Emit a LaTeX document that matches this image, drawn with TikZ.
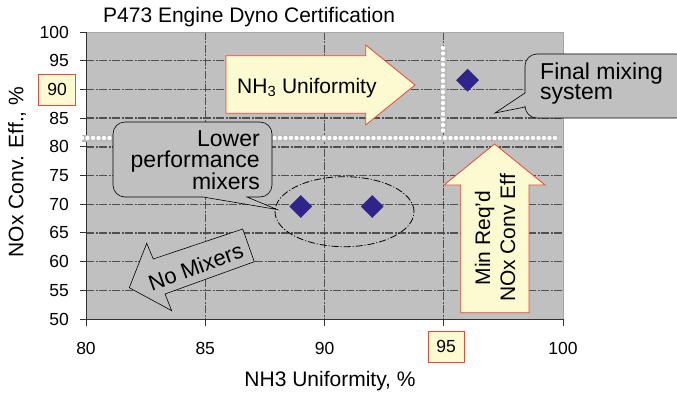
\documentclass[tikz,border=0pt]{standalone}
\usepackage{fontspec}
\setmainfont{Liberation Sans}
\usetikzlibrary{shapes.geometric}
\definecolor{plotbg}{RGB}{192,192,192}
\definecolor{gridc}{RGB}{80,80,80}
\definecolor{hiyel}{RGB}{252,250,208}
\definecolor{hired}{RGB}{232,72,56}
\definecolor{ptblue}{RGB}{48,36,138}
\begin{document}
\begin{tikzpicture}[x=1pt,y=-1pt,
    gridline/.style={draw=gridc,line width=1.4pt,dash pattern=on 8pt off 1.5pt on 2pt off 1.5pt},
    ticklab/.style={font=\fontsize{17.5}{20}\selectfont,inner sep=0pt},
    bigtext/.style={font=\fontsize{21}{25}\selectfont,inner sep=0pt},
    hilite/.style={draw=hired,fill=hiyel,line width=0.8pt},
    bubble/.style={draw=black,fill=plotbg,line width=0.6pt},
    datapt/.style={diamond,fill=ptblue,minimum width=23pt,minimum height=23pt,inner sep=0pt},
    reqband/.style={line width=7pt,draw=gray!55},
    reqdots/.style={line width=4.4pt,draw=white,line cap=round,dash pattern=on 0pt off 5.5pt}]
\useasboundingbox[fill=white] (0,0) rectangle (677,396);
\fill[plotbg] (86,32) rectangle (563,319);
\foreach \v in {55,60,...,95}
    \draw[gridline] (86,{319-(\v-50)*5.74}) -- (563,{319-(\v-50)*5.74});
\foreach \v in {85,90,95}
    \draw[gridline] ({86+(\v-80)*23.85},32) -- ({86+(\v-80)*23.85},319);
\draw[gray!70,line width=0.8pt] (86,32) -- (563,32) -- (563,319);
\draw[gray!40!black,line width=0.9pt] (86,32) -- (86,319) -- (563,319);
\foreach \v in {50,55,...,100}
    \draw[gray!40!black,line width=0.9pt] (80,{319-(\v-50)*5.74}) -- (86,{319-(\v-50)*5.74});
\foreach \v in {80,85,...,100}
    \draw[gray!40!black,line width=0.9pt] ({86+(\v-80)*23.85},319) -- ({86+(\v-80)*23.85},326);
\foreach \v in {50,55,60,65,70,75,80,85,95,100}
    \node[ticklab,anchor=east] (y\v) at (69,{319-(\v-50)*5.74}) {\v};
\node[ticklab,hilite,minimum width=37pt,minimum height=31pt,anchor=east] (y90) at (76,89.5) {90};
\foreach \v in {80,85,90,100}
    \node[ticklab] (x\v) at ({86+(\v-80)*23.85},348) {\v};
\node[ticklab,hilite,minimum width=36pt,minimum height=31pt] (x95) at (446,346.5) {95};
\node[bigtext,anchor=base west] (title) at (103,23) {P473 Engine Dyno Certification};
\node[bigtext] (xtitle) at (330,381) {NH3 Uniformity, \%};
\node[bigtext,rotate=90] (ytitle) at (17,172) {NOx Conv. Eff., \%};
\draw[reqband] (82,138) -- (558,138);
\draw[reqdots] (82,138) -- (558,138);
\draw[reqband] (443,48) -- (443,132);
\draw[reqdots] (443,48) -- (443,132);
\node[datapt] (mixA) at (300.7,206.5) {};
\node[datapt] (mixB) at (372.2,206.5) {};
\node[datapt] (final) at (467.6,80.2) {};
\draw[line width=0.8pt,dash pattern=on 7pt off 2pt on 1pt off 2pt] (344.5,211.7) ellipse [x radius=69.5pt,y radius=35pt];
\draw[hilite] (226,55.7) -- (365.7,55.7) -- (365.7,45) -- (415,85) -- (365.7,125) -- (365.7,113.3) -- (226,113.3) -- cycle;
\node[bigtext,anchor=base west] (nh3) at (237,93) {NH\textsubscript{3} Uniformity};
\draw[hilite] (460.7,312.7) -- (460.7,185) -- (444,185) -- (494.5,144) -- (545,185) -- (529,185) -- (529,312.7) -- cycle;
\node[bigtext,rotate=90,align=center,font=\fontsize{21}{25}\selectfont] (minreq) at (495,238) {Min Req'd\\NOx Conv Eff};
\draw[bubble] (129.3,287.7) -- (146.7,243.3) -- (153.3,259) -- (242.7,229) -- (254.3,261.7) -- (165,294) -- (171.7,310.7) -- cycle;
\node[rotate=20,inner sep=0pt,font=\fontsize{22}{26}\selectfont] (nomix) at (195.7,266.7) {No Mixers};
\draw[bubble] (203,197) -- (277,209.5) -- (247,197) [rounded corners=12pt] -- (272,197) -- (272,122) -- (113,122) -- (113,197) -- (203,197);
\node[inner sep=0pt,align=right,anchor=east,font=\fontsize{23}{21.5}\selectfont] (lower) at (260,160) {Lower\\performance\\mixers};
\draw[bubble] (525,93) -- (495,113) -- (525,107) [rounded corners=12pt] -- (525,118) -- (688,118) -- (688,54) -- (525,54) -- (525,93);
\node[inner sep=0pt,align=left,anchor=west,font=\fontsize{23}{20}\selectfont] (finaltxt) at (540,84) {Final mixing\\system};
\end{tikzpicture}
\end{document}
